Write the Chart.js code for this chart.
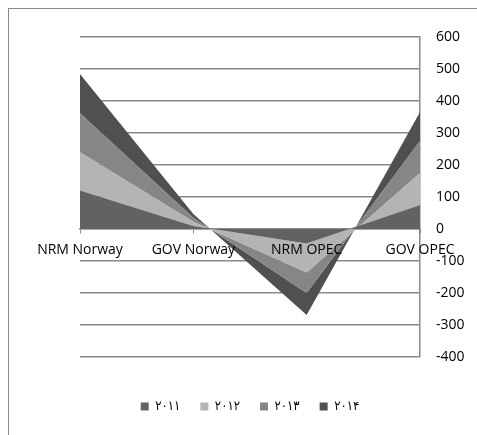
<!DOCTYPE html>
<html>
<head>
<meta charset="utf-8">
<script src="https://cdn.jsdelivr.net/npm/chart.js@4.4.1/dist/chart.umd.min.js"></script>
<style>
html, body { margin: 0; padding: 0; background: #fff; overflow: hidden; }
#wrap { position: relative; width: 477px; height: 435px; }
#frame { position: absolute; left: 8px; top: 8px; width: 600px; height: 600px; border: 1.5px solid #8a8a8a; }
#chart1 { position: absolute; left: 0; top: 0; }
</style>
</head>
<body>
<div id="wrap">
  <div id="frame"></div>
  <canvas id="chart1" width="477" height="435"></canvas>
</div>
<script>
// categories and series
var categories = ['NRM Norway', 'GOV Norway', 'NRM OPEC', 'GOV OPEC'];
var years = ['۲۰۱۱', '۲۰۱۲', '۲۰۱۳', '۲۰۱۴'];
var y2011 = [120, 9, -45, 75];
var y2012 = [120, 14, -91, 100];
var y2013 = [122, 12, -64, 100];
var y2014 = [122, 12, -69, 91];
var yTicks = [-400, -300, -200, -100, 0, 100, 200, 300, 400, 500, 600];

var colors = ['#626262', '#b4b4b4', '#868686', '#505050'];
var series = [y2011, y2012, y2013, y2014];

var ctx1 = document.getElementById('chart1');

let chartData = {
    labels: categories,
    datasets: series.map(function (vals, i) {
        return {
            label: years[i],
            data: vals,
            backgroundColor: colors[i],
            borderColor: colors[i],
            borderWidth: 0,
            pointRadius: 0,
            tension: 0,
            fill: i == 0 ? 'origin' : '-1'
        };
    })
};

let config = {
    type: 'line',
    data: chartData,
    options: {
        responsive: false,
        animation: false,
        layout: {
            padding: { left: 80, right: 8, top: 37, bottom: 12 }
        },
        plugins: {
            tooltip: { enabled: false },
            legend: {
                position: 'bottom',
                fullSize: false,
                // empty title only keeps the gap between plot and legend
                title: {
                    display: true,
                    text: '',
                    font: { size: 12 },
                    padding: { top: 0, bottom: 8.6 }
                },
                labels: {
                    boxWidth: 8,
                    boxHeight: 8,
                    padding: 20,
                    color: '#000',
                    font: { family: 'DejaVu Sans Condensed', size: 13 }
                }
            }
        },
        scales: {
            x: {
                position: { y: 0 },
                offset: false,
                grid: {
                    display: true,
                    drawOnChartArea: false,
                    drawTicks: true,
                    tickLength: 4,
                    color: '#8a8a8a'
                },
                border: { display: true, color: '#8a8a8a', width: 1.5 },
                ticks: {
                    z: 1,
                    color: '#000',
                    padding: 9,
                    maxRotation: 0,
                    autoSkip: false,
                    font: { family: 'Open Sans', size: 14 }
                }
            },
            y: {
                position: 'right',
                stacked: true,
                min: yTicks[0],
                max: yTicks[yTicks.length - 1],
                afterBuildTicks: function (axis) {
                    axis.ticks = yTicks.map(function (v) { return { value: v }; });
                },
                afterFit: function (axis) {
                    axis.width = 49;
                },
                grid: {
                    color: '#8a8a8a',
                    lineWidth: 1.5,
                    drawTicks: false
                },
                border: { display: true, color: '#8a8a8a', width: 1.5 },
                ticks: {
                    color: '#000',
                    padding: 16,
                    font: { family: 'Open Sans', size: 14 }
                }
            }
        }
    }
};

chart1 = new Chart(ctx1, config);
</script>
</body>
</html>
